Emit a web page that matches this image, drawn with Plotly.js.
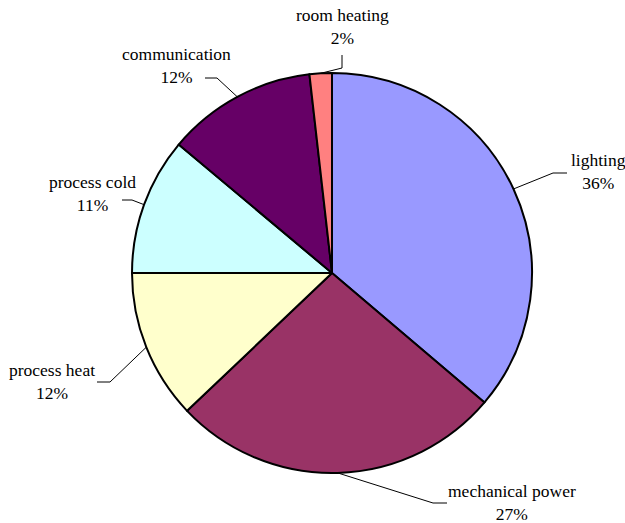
<!DOCTYPE html>
<html>
<head>
<meta charset="utf-8">
<script src="https://cdn.plot.ly/plotly-3.0.1.min.js"></script>
<style>html,body{margin:0;padding:0;background:#fff;}#chart{width:625px;height:523px;}</style>
</head>
<body>
<div id="chart"></div>
<script>
// ---- data ----
const categories = ["lighting", "mechanical power", "process heat", "process cold", "communication", "room heating"];
const shares = [36.2, 26.7, 12.1, 11.1, 12.1, 1.8];
const colors = ["#9999FF", "#993366", "#FFFFCC", "#CCFFFF", "#660066", "#FF8080"];

// ---- layout constants (pixels) ----
const W = 625, H = 523;
const CX = 332, CY = 273, R = 200;
// label text centres and leader-line elbows / ends (pixels)
const labelPos = [[598, 171], [512, 502.5], [52, 381.5], [93, 193.5], [176, 65.5], [342, 27]];
const elbowPos = [[553, 173], [433, 503], [110, 382], [132, 200], [217, 78], [342, 68]];
const endPos   = [[567, 173], [447, 503], [97, 382], [122, 200], [205, 78], [342, 55]];

const px = x => x / W;
const py = y => 1 - y / H;

const total = shares.reduce((a, b) => a + b, 0);
const shapes = [], annotations = [];
let cum = 0;
shares.forEach((v, i) => {
  const mid = (cum + v / 2) / total * 2 * Math.PI; // clockwise from 12 o'clock
  cum += v;
  const ax = CX + R * Math.sin(mid), ay = CY - R * Math.cos(mid);
  const [ex, ey] = elbowPos[i], [tx, ty] = endPos[i];
  shapes.push({
    type: "path", xref: "paper", yref: "paper",
    path: `M ${px(ax)} ${py(ay)} L ${px(ex)} ${py(ey)} L ${px(tx)} ${py(ty)}`,
    line: {color: "#000", width: 1}
  });
  annotations.push({
    xref: "paper", yref: "paper",
    x: px(labelPos[i][0]), y: py(labelPos[i][1]),
    xanchor: "center", yanchor: "middle", showarrow: false,
    text: categories[i] + "<br>" + Math.round(v / total * 100) + "%",
    font: {family: "Liberation Serif", size: 17.5, color: "#000"}
  });
});

const trace = {
  type: "pie",
  labels: categories,
  values: shares,
  sort: false,
  direction: "clockwise",
  rotation: 0,
  textinfo: "none",
  hoverinfo: "none",
  marker: {colors: colors, line: {color: "#000", width: 2}},
  domain: {x: [px(CX - R), px(CX + R)], y: [py(CY + R), py(CY - R)]},
  showlegend: false
};

const layout = {
  width: W, height: H,
  margin: {l: 0, r: 0, t: 0, b: 0},
  paper_bgcolor: "#fff",
  font: {family: "Liberation Serif"},
  showlegend: false,
  shapes: shapes,
  annotations: annotations
};

Plotly.newPlot("chart", [trace], layout, {displayModeBar: false, staticPlot: true});
</script>
</body>
</html>
